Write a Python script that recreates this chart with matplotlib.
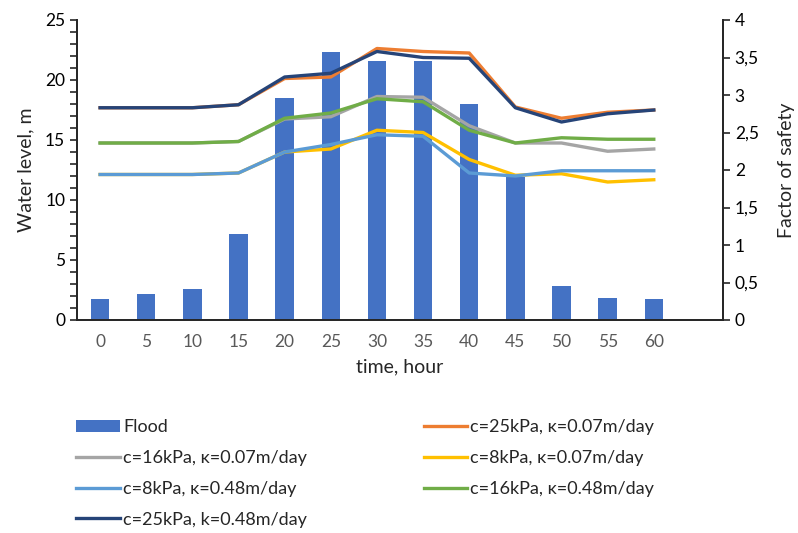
import numpy as np
import matplotlib
matplotlib.use('Agg')
import matplotlib.pyplot as plt
from matplotlib.ticker import MultipleLocator, FuncFormatter

plt.rcParams['font.family'] = ['Lato', 'DejaVu Sans']

# time (hours) and flood water level (m)
hours = ['0', '5', '10', '15', '20', '25', '30', '35', '40', '45', '50', '55', '60']
flood = [1.75, 2.15, 2.6, 7.15, 18.5, 22.3, 21.6, 21.6, 18.0, 11.95, 2.85, 1.85, 1.75]

# factor of safety
fs_25_007 = [2.83, 2.83, 2.83, 2.87, 3.22, 3.24, 3.62, 3.58, 3.56, 2.84, 2.69, 2.77, 2.80]
fs_16_007 = [2.36, 2.36, 2.36, 2.38, 2.68, 2.71, 2.98, 2.97, 2.59, 2.36, 2.36, 2.25, 2.28]
fs_8_007 = [1.94, 1.94, 1.94, 1.96, 2.24, 2.28, 2.53, 2.50, 2.14, 1.93, 1.95, 1.84, 1.87]
fs_8_048 = [1.94, 1.94, 1.94, 1.96, 2.24, 2.34, 2.47, 2.45, 1.96, 1.92, 1.99, 1.99, 1.99]
fs_16_048 = [2.36, 2.36, 2.36, 2.38, 2.69, 2.76, 2.95, 2.91, 2.53, 2.36, 2.43, 2.41, 2.41]
fs_25_048 = [2.83, 2.83, 2.83, 2.87, 3.24, 3.29, 3.58, 3.50, 3.49, 2.83, 2.64, 2.75, 2.80]

x = np.arange(len(hours))

fig = plt.figure(figsize=(7.98, 5.33), dpi=100)
ax = fig.add_axes([77/798, 1-320/533, 646/798, 300/533])
ax2 = ax.twinx()

bars = ax.bar(x, flood, width=0.4, color='#4472C4', label='Flood', zorder=2)
ax.set_xlim(-0.5, 13.5)
ax.set_ylim(0, 25)
ax.set_xticks(x)
ax.set_xticklabels(hours)
ax.yaxis.set_major_locator(MultipleLocator(5))
ax.yaxis.set_minor_locator(MultipleLocator(1))
ax.tick_params(axis='x', length=0, labelsize=12.5, labelcolor='#595959', pad=10)
ax.tick_params(axis='y', which='both', direction='out', length=5, width=1.2, labelsize=12.5, color='#262626')
ax.set_ylabel('Water level, m', fontsize=14, color='#262626', labelpad=8)
ax.set_xlabel('time, hour', fontsize=14, color='#262626', labelpad=6)

l1, = ax2.plot(x, fs_25_007, color='#ED7D31', lw=2.4, label='c=25kPa, \u03ba=0.07m/day')
l2, = ax2.plot(x, fs_16_007, color='#A5A5A5', lw=2.4, label='c=16kPa, \u03ba=0.07m/day')
l3, = ax2.plot(x, fs_8_007, color='#FFC000', lw=2.4, label='c=8kPa, \u03ba=0.07m/day')
l4, = ax2.plot(x, fs_8_048, color='#5B9BD5', lw=2.4, label='c=8kPa, \u03ba=0.48m/day')
l5, = ax2.plot(x, fs_16_048, color='#70AD47', lw=2.4, label='c=16kPa, \u03ba=0.48m/day')
l6, = ax2.plot(x, fs_25_048, color='#264478', lw=2.4, label='c=25kPa, k=0.48m/day')
ax2.set_ylim(0, 4)
ax2.yaxis.set_major_locator(MultipleLocator(0.5))
ax2.yaxis.set_major_formatter(FuncFormatter(lambda v, p: ('%g' % v).replace('.', ',')))
ax2.tick_params(axis='y', direction='out', length=5, width=1.2, labelsize=12.5, color='#262626')
ax2.set_ylabel('Factor of safety', fontsize=14, color='#262626', labelpad=14)

for a in (ax, ax2):
    a.spines['top'].set_visible(False)
    for s in ('left', 'right', 'bottom'):
        a.spines[s].set_linewidth(1.3)
        a.spines[s].set_color('#262626')

# legend filled row by row like the original
handles = [bars, l2, l4, l6, l1, l3, l5]
fig.legend(handles=handles, labels=[h.get_label() for h in handles], ncol=2,
           loc='upper left', bbox_to_anchor=(60/798, 1-403/533), frameon=False,
           fontsize=13, handlelength=2.4, handletextpad=0.2, columnspacing=6.45,
           labelspacing=0.82, labelcolor='#262626')

fig.savefig('out.png', dpi=100)
